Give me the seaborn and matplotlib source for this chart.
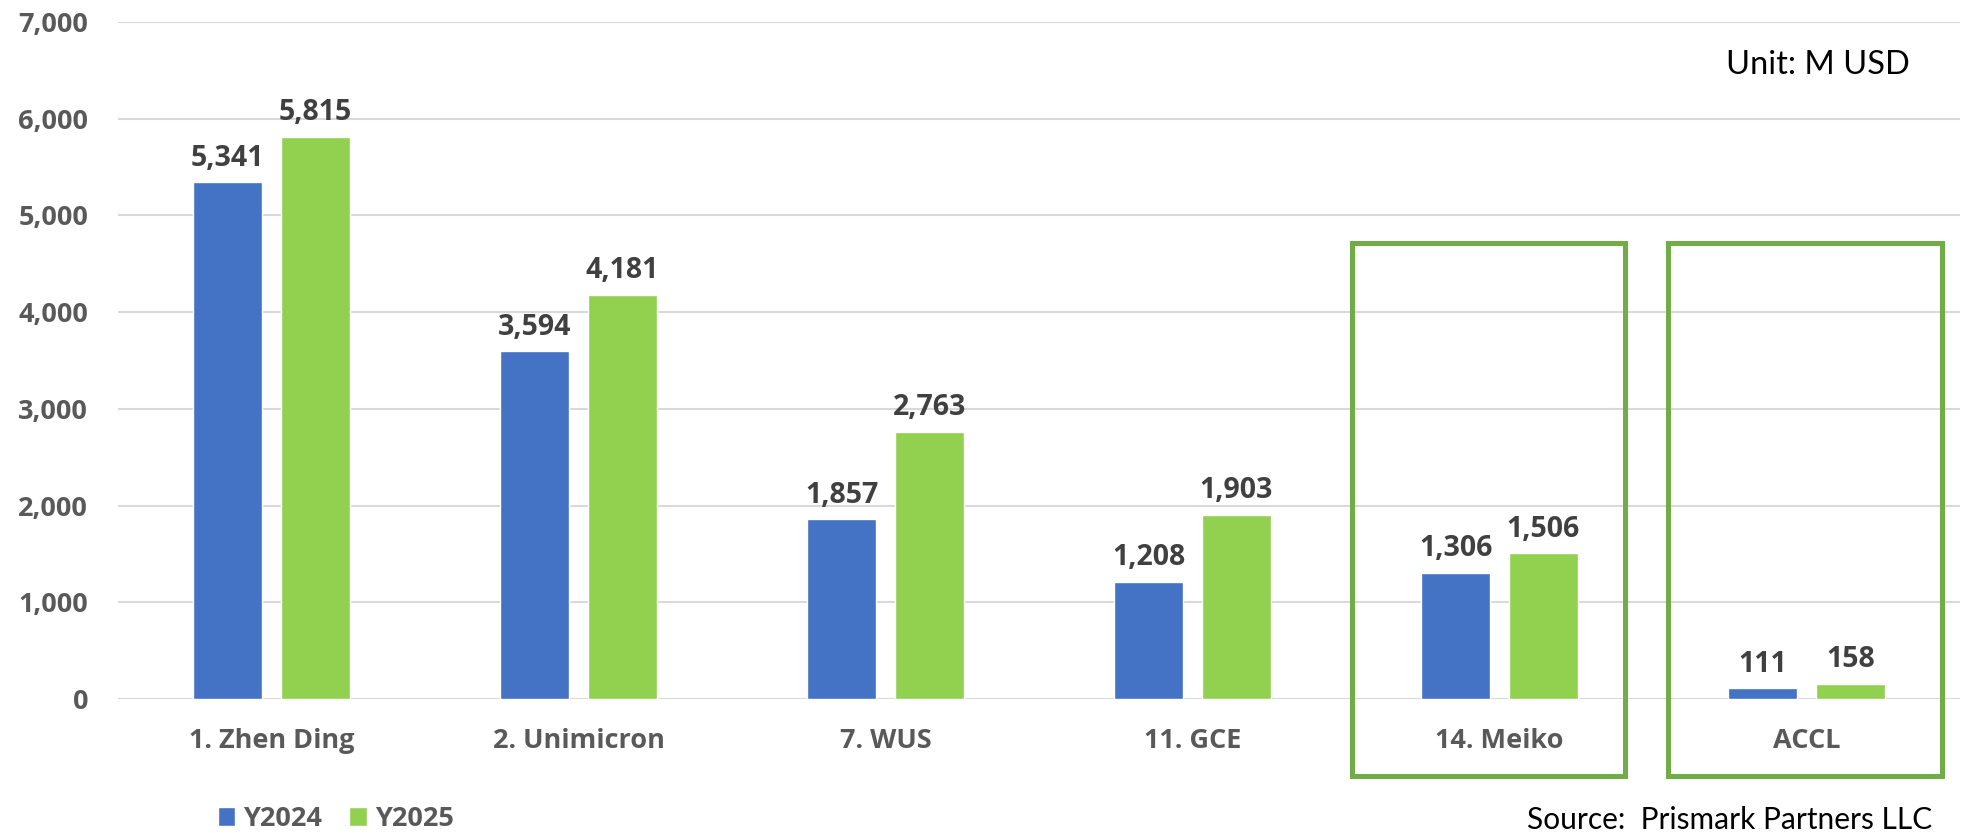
import pandas as pd
import seaborn as sns
import matplotlib.pyplot as plt
from matplotlib.patches import Rectangle

# data (M USD)
empresas = ['1. Zhen Ding', '2. Unimicron', '7. WUS', '11. GCE', '14. Meiko', 'ACCL']
y2024 = [5341, 3594, 1857, 1208, 1306, 111]
y2025 = [5815, 4181, 2763, 1903, 1506, 158]
anos = ['Y2024', 'Y2025']
destaque = ['14. Meiko', 'ACCL']

df = pd.DataFrame({'empresa': empresas * 2,
                   'ano': [anos[0]] * 6 + [anos[1]] * 6,
                   'valor': y2024 + y2025})

sns.set_style('white')
plt.rcParams['font.family'] = ['Open Sans', 'DejaVu Sans']
plt.rcParams['font.weight'] = 'bold'

fig = plt.figure(figsize=(19.68, 8.33), dpi=100)
ax = fig.add_axes([118/1968, 134/833, 1842/1968, 677/833])

sns.barplot(data=df, x='empresa', y='valor', hue='ano', order=empresas, hue_order=anos,
            palette=['#4472c4', '#92d050'], width=0.57, gap=0.21, ax=ax, saturation=1)

ax.set_ylim(0, 7000)
ax.set_xlim(-0.5, 5.5)
ax.set_yticks(range(0, 7001, 1000))
ax.yaxis.set_major_formatter(plt.FuncFormatter(lambda v, p: f'{v:,.0f}'))
ax.grid(axis='y', color='#d9d9d9', lw=1.5)
ax.set_axisbelow(True)
sns.despine(ax=ax, left=True, bottom=True)
ax.tick_params(axis='both', length=0)
ax.tick_params(axis='y', pad=21.5, labelsize=19.5, labelcolor='#595959')
ax.tick_params(axis='x', pad=21, labelsize=19.5, labelcolor='#595959')
ax.set_xlabel('')
ax.set_ylabel('')

# rótulos de valor
for container in ax.containers:
    ax.bar_label(container, fmt='{:,.0f}', padding=7, fontsize=20.5,
                 fontweight='bold', color='#404040')

# caixas verdes de destaque
for nome in destaque:
    i = empresas.index(nome)
    esq = -0.48 if nome == '14. Meiko' else -0.45
    ax.add_patch(Rectangle((i + esq, -794), 0.89, 4711 + 794, fill=False,
                           edgecolor='#70ad47', lw=3.6, clip_on=False, zorder=5))

# legenda
ax.legend(loc='center left', bbox_to_anchor=(204/1968, 1 - 819/833),
          bbox_transform=fig.transFigure, ncol=2, frameon=False,
          handlelength=0.65, handleheight=0.65, handletextpad=0.3,
          columnspacing=1.0, borderpad=0,
          prop={'size': 19.5, 'weight': 'bold'}, labelcolor='#595959')

fig.text(1910/1968, 1 - 74/833, 'Unit: M USD', ha='right', va='baseline',
         fontsize=23.5, color='black', fontweight='normal', family='Lato')
fig.text(1932/1968, 1 - 829/833, 'Source:  Prismark Partners LLC', ha='right',
         va='baseline', fontsize=21.5, color='black', fontweight='normal', family='Lato')

fig.savefig('out.png', dpi=100)
